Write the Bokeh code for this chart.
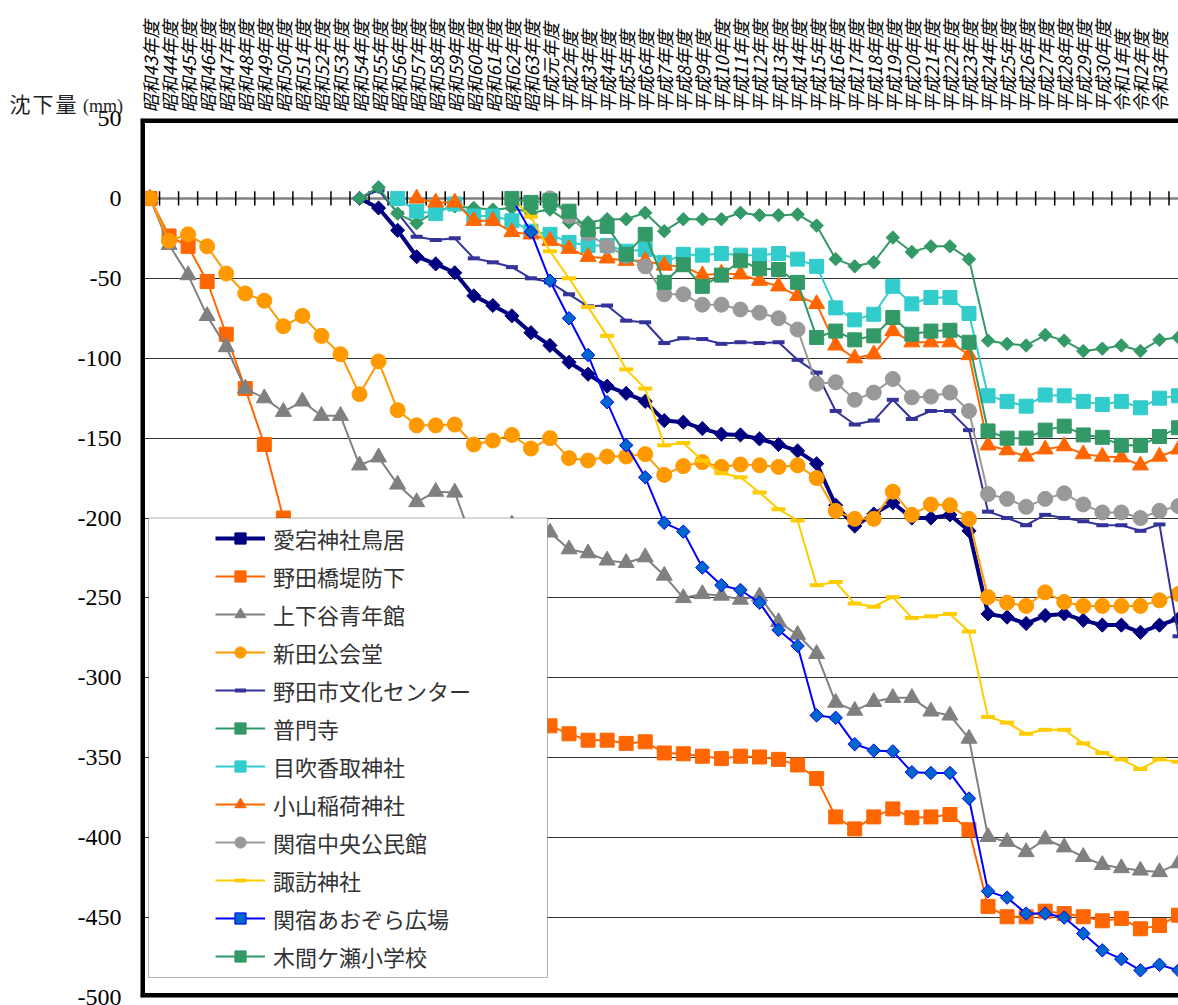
import math
import numpy as np
from bokeh.plotting import figure
from bokeh.layouts import column
from bokeh.models import (Range1d, FixedTicker, Span, Legend, LegendItem,
                          BoxAnnotation, Div)
from bokeh.embed import file_html
from bokeh.resources import INLINE

N = float("nan")

# ---- category labels (fiscal years) ----
years = (["昭和%d年度" % y for y in range(43, 64)] + ["平成元年度"] +
         ["平成%d年度" % y for y in range(2, 31)] +
         ["令和%d年度" % y for y in range(1, 4)])
n_points = 55  # last point lies just beyond 令和3年度 (clipped at the right edge)

# ---- series values (mm) ----
atago = [N]*11 + [0, -6, -20, -36.5, -41, -46.5, -61, -67, -73.5, -84, -92, -102.5, -110, -117.5,
                  -122, -127, -139, -140, -144, -147.5, -148, -150.5, -154, -158, -166, -192, -205,
                  -197.5, -190.5, -200, -200, -198, -208, -260, -262, -266, -261, -260, -264, -267,
                  -267, -271.5, -267, -263]
nodabashi = [0, -23.5, -30, -52, -85, -119, -154, -200, -228, -250, -262, -270, -278, -285, -292,
             -298, -304, -310, -315, -320, -325, -330, -335, -339, -339, -341, -340, -347, -347.5,
             -349, -350.5, -349, -349.5, -351, -354.5, -363, -387, -394.5, -387, -382, -387.5,
             -387, -385.5, -395, -443, -449.5, -449.5, -446, -447.5, -449.5, -452, -450.5, -457,
             -455, -448.5]
kamigeya = [0, -29, -48, -73.5, -93, -119, -125, -133.5, -127, -136, -136, -167, -162, -179, -190,
            -183.5, -184, -217, -212, -204, -207, -209, -219.5, -222, -226.5, -228, -224.5, -236,
            -250, -247.5, -248.5, -251, -249, -265, -273, -285, -315.5, -320.5, -315, -312.5,
            -312.5, -321, -323.5, -338, -399.5, -402.5, -409, -401, -406, -412, -417, -419,
            -420.5, -421.5, -416]
nitta = [0, -26.5, -22.5, -30, -47, -59.5, -64, -80, -73.5, -86, -97.5, -122.5, -102, -132.5, -142,
         -142, -141.5, -154, -151.5, -148, -156.5, -150, -162.5, -164, -161.5, -161.5, -160, -173,
         -167.5, -165, -168, -166.5, -167, -168, -167, -175, -195.5, -200.5, -200.5, -183.5, -198,
         -191.5, -192, -200.5, -249.5, -253, -255, -246.5, -252.5, -255, -255, -255, -255,
         -251.5, -247.5]
bunka = [N]*11 + [0, 5, -9, -24, -26, -25, -37.5, -40, -43, -50, -52.5, -60, -67.5, -67, -76.5,
                  -77.5, -90.5, -87.5, -88, -91, -90, -90.5, -90, -101, -109, -133, -141.5, -139,
                  -126, -138, -133, -133, -145, -196, -200, -204.5, -198, -200, -202, -204.5,
                  -204.5, -208, -204, -274]
fumonji = [N]*11 + [0, 7, -9.5, -15.5, -8, -5, -6, -7, -6, -9, -7, -15, -15, -13, -13, -9, -20.5,
                    -13, -13, -13, -9, -10.5, -10.5, -10, -17, -38, -42.5, -40, -24.5, -33.5, -30,
                    -30, -38, -89, -91, -92, -85.5, -89, -95.5, -94, -92, -95.5, -88.5, -87]
mebuki = [N]*13 + [0, -8, -9.5, -3.5, -11, -11, -14, -20.5, -22.5, -27.5, -29.5, -29.5, -33, -32,
                   -40, -35, -35.5, -34.5, -35.5, -35.5, -34.5, -38, -42.5, -68.5, -76, -72.5, -55,
                   -66, -62, -62, -72, -123.5, -127, -130, -123, -123.5, -127, -129, -127, -131,
                   -125, -123.5]
koyama = [N]*14 + [0, -2.5, -2.5, -14, -14, -21, -22.5, -26.5, -31.5, -36.5, -37.5, -39, -39, -42,
                   -42.5, -48, -47, -47.5, -51.5, -55, -61, -66, -92, -100, -97.5, -83, -90, -90,
                   -90, -98, -154.5, -157.5, -161.5, -157, -155, -160, -161.5, -162, -167, -161.5,
                   -157]
sekiyado_c = [N]*21 + [0, -11, -22, -30, -36, -42.5, -60, -60, -66.5, -66.5, -69.5, -71.5, -75, -82,
                       -116, -115, -126, -121.5, -113, -124.5, -124, -121.5, -133, -185, -188,
                       -193, -188, -184.5, -191.5, -196.5, -196.5, -200, -195.5, -192.5]
suwa = [N]*19 + [0, -11.5, -33, -50, -68, -86, -107, -119, -154.5, -153, -164, -172, -174.5, -184,
                 -194.5, -201.5, -242, -240, -253.5, -255.5, -249.5, -262.5, -261.5, -260, -271,
                 -324.5, -328, -335, -332.5, -332.5, -341, -347, -351, -357, -351, -352.5]
aozora = [N]*19 + [0, -21, -51.5, -75, -98, -127.5, -154.5, -174.5, -203, -208.5, -231, -242, -245,
                   -253, -270, -280, -323.5, -325, -341.5, -345.5, -346, -359, -359.5, -359.5,
                   -375.5, -433.5, -437.5, -447.5, -447.5, -450, -460, -470.5, -476, -483, -479.5,
                   -483]
kemagase = [N]*19 + [0, -2.5, -1.5, -8, -19.5, -17.5, -35, -22.5, -52.5, -41.5, -55, -48, -39, -44,
                     -44.5, -52.5, -87, -83, -88.5, -86, -74.5, -85, -83, -82.5, -90, -145.5, -150,
                     -150, -145, -142.5, -148, -149.5, -154.5, -154.5, -149, -143.5]

names = ["愛宕神社鳥居", "野田橋堤防下", "上下谷青年館", "新田公会堂", "野田市文化センター", "普門寺",
         "目吹香取神社", "小山稲荷神社", "関宿中央公民館", "諏訪神社", "関宿あおぞら広場", "木間ケ瀬小学校"]
values = [atago, nodabashi, kamigeya, nitta, bunka, fumonji, mebuki, koyama, sekiyado_c, suwa,
          aozora, kemagase]

# style per series: line color, line width, marker, size, fill, marker line, marker line width, angle
styles = [
    ("#000080", 4.0, "square", 10, "#000080", "#000080", 1, math.pi / 4),
    ("#FF6600", 2.0, "square", 14, "#FF6600", "#FF6600", 1, 0),
    ("#808080", 2.0, "triangle", 16, "#808080", "#808080", 1, 0),
    ("#FF9900", 2.0, "circle", 15, "#FF9900", "#FF9900", 1, 0),
    ("#333399", 2.0, "dash", 12, "#333399", "#333399", 4, 0),
    ("#339966", 2.0, "square", 9.5, "#339966", "#339966", 1, math.pi / 4),
    ("#33CCCC", 2.0, "square", 14, "#33CCCC", "#33CCCC", 1, 0),
    ("#FF6600", 2.0, "triangle", 16, "#FF6600", "#FF6600", 1, 0),
    ("#999999", 2.0, "circle", 15, "#999999", "#999999", 1, 0),
    ("#FFCC00", 2.0, "dash", 14, "#FFCC00", "#FFCC00", 4, 0),
    ("#0000FF", 2.0, "square", 9.5, "#0066CC", "#0000FF", 1, math.pi / 4),
    ("#339966", 2.0, "square", 14, "#339966", "#339966", 1, 0),
]

p = figure(width=1178, height=1005, x_range=Range1d(-0.5, 54.0), y_range=Range1d(-500, 50),
           x_axis_location="above", output_backend="svg", toolbar_location=None,
           min_border_left=140, min_border_right=0, min_border_top=118, min_border_bottom=8)
p.outline_line_color = None
p.background_fill_color = "white"
p.border_fill_color = "white"

# top category labels
p.xaxis.ticker = FixedTicker(ticks=list(range(len(years))))
p.xaxis.major_label_overrides = {i: y for i, y in enumerate(years)}
p.xaxis.major_label_orientation = math.pi / 2
p.xaxis.major_label_text_font = "Noto Sans CJK JP"
p.xaxis.major_label_text_font_style = "italic"
p.xaxis.major_label_text_font_size = "18px"
p.xaxis.major_label_text_color = "black"
p.xaxis.major_label_standoff = 6
p.xaxis.major_tick_out = 0
p.xaxis.major_tick_in = 0
p.xaxis.axis_line_color = None
p.xaxis.major_tick_line_color = None
p.xaxis.minor_tick_line_color = None
p.xgrid.visible = False

# y axis
yticks = list(range(50, -501, -50))
p.yaxis.ticker = FixedTicker(ticks=yticks)
p.yaxis.major_label_overrides = {t: str(t) for t in yticks}
p.yaxis.major_label_text_font = "Liberation Serif"
p.yaxis.major_label_text_font_size = "24px"
p.yaxis.major_label_text_color = "black"
p.yaxis.major_label_standoff = 19
p.yaxis.major_tick_out = 0
p.yaxis.major_tick_in = 0
p.yaxis.axis_line_color = None
p.yaxis.major_tick_line_color = None
p.yaxis.minor_tick_line_color = None
p.ygrid.ticker = FixedTicker(ticks=[t for t in yticks if t not in (0, 50)])
p.ygrid.grid_line_color = "#333333"
p.ygrid.grid_line_width = 1

# zero line with category tick marks
p.add_layout(Span(location=0, dimension="width", line_color="#808080", line_width=2.5,
                  level="underlay"))
bounds = [i + 0.5 for i in range(len(years))]
p.segment(x0=bounds, x1=bounds, y0=[4.5] * len(bounds), y1=[-4.5] * len(bounds),
          line_color="black", line_width=1.5)

xs = list(range(n_points))
items = []
for name, vals, st in zip(names, values, styles):
    lc, lw, mk, sz, fc, mlc, mlw, ang = st
    y = np.array(vals, dtype=float)
    lr = p.line(xs, y, line_color=lc, line_width=lw)
    sr = p.scatter(xs, y, marker=mk, size=sz, fill_color=fc, line_color=mlc,
                   line_width=mlw, angle=ang)
    items.append(LegendItem(label=name, renderers=[lr, sr]))

# legend box + legend
p.add_layout(BoxAnnotation(left=-0.08, right=20.87, top=-200, bottom=-487.5,
                           fill_color="white", fill_alpha=1.0,
                           line_color="black", line_width=1))
legend = Legend(items=items, location=(75, 25), padding=0, margin=0, spacing=6,
                glyph_width=50, glyph_height=28, label_height=28, label_standoff=8,
                border_line_alpha=0, background_fill_alpha=0,
                label_text_font="Noto Sans CJK JP", label_text_font_size="22px",
                label_text_color="#333333")
p.add_layout(legend)

# thick frame borders (left, top, bottom); half of each is clipped by the frame
p.add_layout(Span(location=-0.5, dimension="height", line_color="black", line_width=9))
p.add_layout(Span(location=50, dimension="width", line_color="black", line_width=9))
p.add_layout(Span(location=-500, dimension="width", line_color="black", line_width=9))

# y axis title, placed at the top-left corner beside the category labels
title_div = Div(
    text=('<span style="letter-spacing:2px;font-family:\'Noto Sans CJK JP\';font-size:21px">'
          '沈下量</span><span style="font-family:\'Liberation Serif\';font-size:18px">'
          '&nbsp;(mm)</span>'),
    width=118, height=28,
    styles={"position": "absolute", "left": "0px", "top": "84px",
            "z-index": "10", "text-align": "right",
            "line-height": "28px", "color": "#222222", "white-space": "nowrap"})

layout = column(title_div, p)
open("out.html", "w").write(file_html(layout, INLINE))
